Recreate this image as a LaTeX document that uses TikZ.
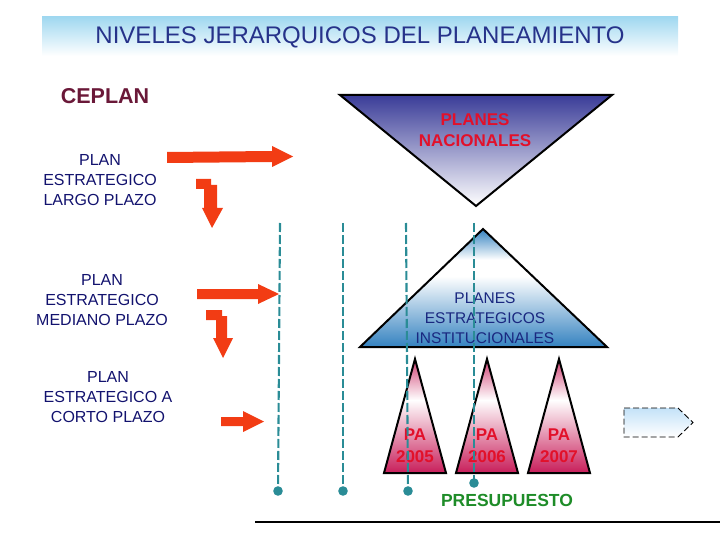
\documentclass[tikz,border=0pt]{standalone}
\usepackage{fontspec}
\setmainfont{Liberation Sans}
\usetikzlibrary{calc}
\definecolor{titleblue}{RGB}{38,50,138}
\definecolor{barblue}{RGB}{160,216,240}
\definecolor{navytext}{RGB}{18,18,110}
\definecolor{ceplan}{RGB}{106,24,56}
\definecolor{arrowred}{RGB}{242,60,20}
\definecolor{teal}{RGB}{42,140,150}
\definecolor{natblue}{RGB}{58,60,152}
\definecolor{instblue}{RGB}{52,130,192}
\definecolor{insttext}{RGB}{26,40,128}
\definecolor{pared}{RGB}{226,16,42}
\definecolor{pink}{RGB}{200,30,90}
\definecolor{green}{RGB}{30,140,40}
\definecolor{lightblue}{RGB}{196,226,248}
\pgfdeclareverticalshading{pashade}{100bp}{color(0bp)=(pink); color(25bp)=(pink); color(57bp)=(white); color(75bp)=(pink!85!white); color(100bp)=(pink!85!white)}
\pgfdeclareverticalshading{instshade}{100bp}{color(0bp)=(instblue); color(25bp)=(instblue); color(55bp)=(white); color(62bp)=(white); color(75bp)=(instblue); color(100bp)=(instblue)}
\tikzset{
  lefttext/.style={align=center, text=navytext, inner sep=0pt, font=\fontsize{16}{20}\selectfont},
  redarrow/.style={fill=arrowred, draw=none},
  dashline/.style={draw=teal, line width=2.1pt, dash pattern=on 9pt off 3pt},
  dotend/.style={fill=teal, draw=none},
  tri/.style={draw=black, line width=2pt, line join=miter},
  patext/.style={align=center, text=pared, inner sep=0pt, font=\bfseries\fontsize{17}{22}\selectfont},
}
\begin{document}
\begin{tikzpicture}[x=1pt,y=-1pt]
\useasboundingbox (0,0) rectangle (720,540);
% title bar
\shade[top color=barblue, bottom color=white] (42,17) rectangle (678,56);
\node[text=titleblue, inner sep=0pt, font=\fontsize{24}{26}\selectfont] (title) at (360,37) {NIVELES JERARQUICOS DEL PLANEAMIENTO};
% CEPLAN
\node[text=ceplan, inner sep=0pt, font=\bfseries\fontsize{21.5}{24}\selectfont] (ceplan) at (105,96) {CEPLAN};
% left texts
\node[lefttext] (largo) at (100,180) {PLAN\\ESTRATEGICO\\ LARGO PLAZO};
\node[lefttext] (mediano) at (102,300) {PLAN\\ESTRATEGICO\\MEDIANO PLAZO};
\node[lefttext] (corto) at (108,397) {PLAN\\ESTRATEGICO A\\CORTO PLAZO};
% red arrows
\fill[redarrow] (167,152) -- (272,151) -- (272,146) -- (293,156.5) -- (272,167) -- (272,162) -- (167,163) -- cycle;
\fill[redarrow] (196,179) -- (211,179) -- (211,185) -- (217,185) -- (217,208) -- (223,208) -- (212,228) -- (202,208) -- (204,208) -- (204,189) -- (196,189) -- cycle;
\fill[redarrow] (197,289) -- (258,289) -- (258,284) -- (279,294) -- (258,304) -- (258,299) -- (197,299) -- cycle;
\fill[redarrow] (206,310) -- (222,310) -- (222,316) -- (227,316) -- (227,338) -- (233,338) -- (223,358) -- (213,338) -- (216,338) -- (216,320) -- (206,320) -- cycle;
\fill[redarrow] (221,417) -- (243,417) -- (243,411) -- (264,421.5) -- (243,432) -- (243,426) -- (221,426) -- cycle;
% national triangle
\coordinate (n1) at (340,95); \coordinate (n2) at (612,95); \coordinate (n3) at (476,206);
\shade[top color=natblue, bottom color=white] (n1) -- (n2) -- (n3) -- cycle;
\draw[tri] (n1) -- (n2) -- (n3) -- cycle;
\node[align=center, text=pared, inner sep=0pt, font=\bfseries\fontsize{17}{21}\selectfont] (nac) at (475,130.5) {PLANES\\NACIONALES};
% institutional triangle
\coordinate (i1) at (483,229); \coordinate (i2) at (607,347); \coordinate (i3) at (360,347);
\shade[shading=instshade] (i1) -- (i2) -- (i3) -- cycle;
\draw[tri] (i1) -- (i2) -- (i3) -- cycle;
\node[align=center, text=insttext, inner sep=0pt, font=\fontsize{15.5}{20}\selectfont] (inst) at (485,318) {PLANES\\ESTRATEGICOS\\INSTITUCIONALES};
% PA triangles
\foreach \cx/\yr/\nm in {415/2005/pa1, 487/2006/pa2, 559/2007/pa3}{
  \shade[shading=pashade] (\cx,359) -- (\cx+31,473) -- (\cx-31,473) -- cycle;
  \draw[tri] (\cx,359) -- (\cx+31,473) -- (\cx-31,473) -- cycle;
  \node[patext] (\nm) at (\cx,446) {PA\\\yr};
}
% dashed lines
\coordinate (d1t) at (280,223); \coordinate (d1b) at (278,491);
\coordinate (d2t) at (343,223); \coordinate (d2b) at (343,491);
\coordinate (d3t) at (406,223); \coordinate (d3b) at (408,491);
\coordinate (d4t) at (474,223); \coordinate (d4b) at (474,483);
\foreach \d in {d1,d2,d3,d4}{
  \draw[dashline] (\d t) -- (\d b);
  \fill[dotend] (\d b) circle[radius=4.8pt];
}
% presupuesto
\node[text=green, inner sep=0pt, font=\bfseries\fontsize{17.5}{20}\selectfont] (pres) at (507,500) {PRESUPUESTO};
% dashed block arrow
\shade[top color=lightblue, bottom color=white] (624,408) -- (678,408) -- (693,422.5) -- (678,437) -- (624,437) -- cycle;
\draw[black, line width=0.9pt, dash pattern=on 6pt off 3pt] (624,408) -- (678,408) -- (693,422.5) -- (678,437) -- (624,437) -- cycle;
% bottom line
\coordinate (bl) at (255,522); \coordinate (br) at (720,522);
\draw[black, line width=1.2pt] (bl) -- (br);
\end{tikzpicture}
\end{document}
